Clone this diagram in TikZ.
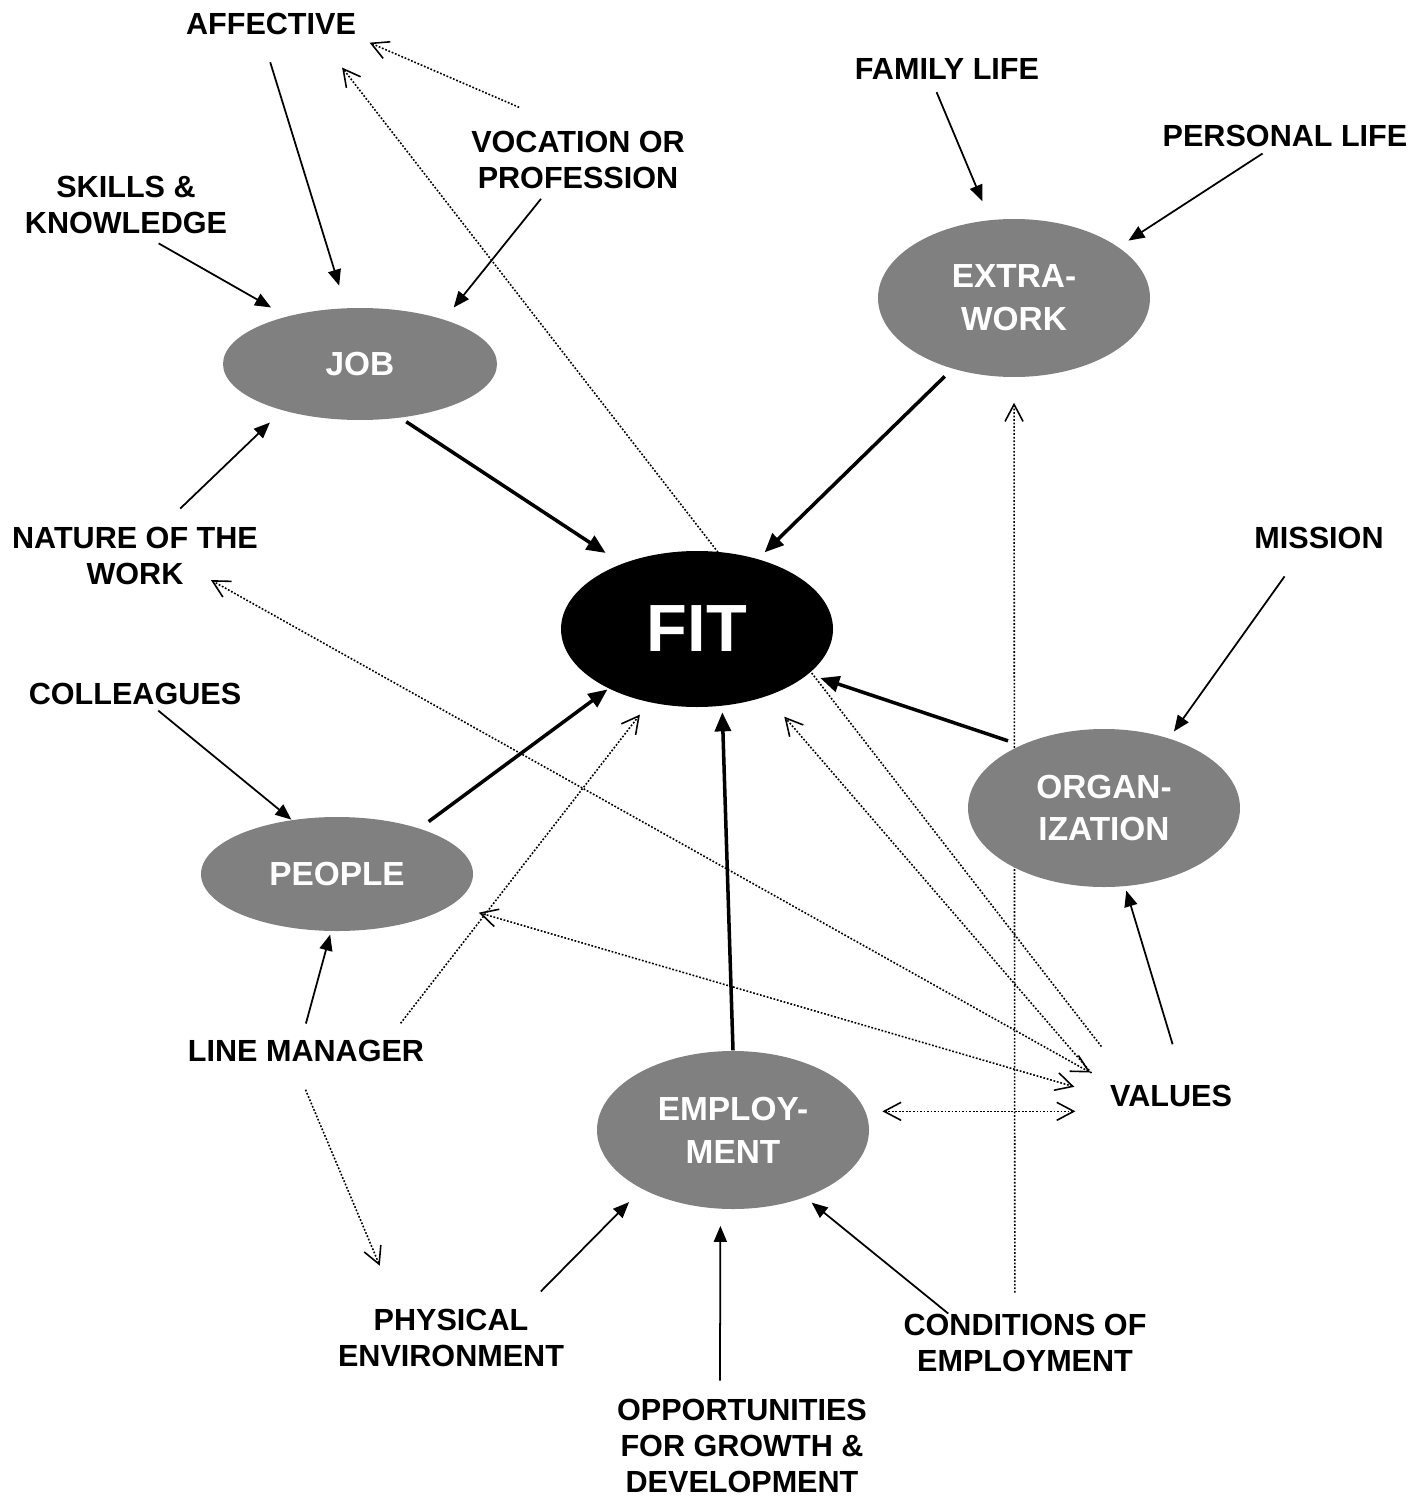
\documentclass[tikz,border=0pt]{standalone}
\usepackage{fontspec}
\setmainfont{Liberation Sans}
\usetikzlibrary{arrows.meta,shapes.geometric,backgrounds}
\tikzset{
  bubble/.style={ellipse, fill=gray, text=white, inner sep=0pt, align=center,
    minimum width=27.2mm, minimum height=15.8mm,
    font=\fontsize{9.5}{12.2}\selectfont\bfseries},
  lbl/.style={inner sep=0pt, align=center, font=\fontsize{8.7}{10.2}\selectfont\bfseries},
  feed/.style={-{Triangle[length=1.6mm,width=1.3mm]}, line width=0.5pt},
  main/.style={-{Triangle[length=1.9mm,width=1.6mm]}, line width=1pt},
  link/.style={line width=0.45pt, dash pattern=on 0.5pt off 0.5pt}
}
\begin{document}
\begin{tikzpicture}[x=0.1mm,y=-0.1mm,>={Straight Barb[length=1.7mm,width=1.8mm,line width=0.45pt]}]
  \begin{scope}[on background layer]
    \fill[white] (0,0) rectangle (1426,1497);
  \end{scope}
  \useasboundingbox (0,0) rectangle (1426,1497);

  \node[bubble, fill=black, minimum height=15.6mm, font=\fontsize{19}{22}\selectfont\bfseries] (fit) at (697,629) {FIT};
  \node[bubble, minimum width=27.4mm, minimum height=11.2mm] (job) at (360,364) {JOB};
  \node[bubble] (extra) at (1014,298) {EXTRA-\\WORK};
  \node[bubble] (org) at (1104,808) {ORGAN-\\IZATION};
  \node[bubble, minimum height=11.4mm] (people) at (337,874) {PEOPLE};
  \node[bubble] (employ) at (733,1130) {EMPLOY-\\MENT};

  \node[lbl] (affective) at (271,24) {AFFECTIVE};
  \node[lbl] (vocation) at (578,160) {VOCATION OR\\PROFESSION};
  \node[lbl] (skills) at (126,205) {SKILLS \&\\KNOWLEDGE};
  \node[lbl] (familylife) at (947,69) {FAMILY LIFE};
  \node[lbl] (personallife) at (1285,136) {PERSONAL LIFE};
  \node[lbl] (nature) at (135,556) {NATURE OF THE\\WORK};
  \node[lbl] (mission) at (1319,538) {MISSION};
  \node[lbl] (colleagues) at (135,694) {COLLEAGUES};
  \node[lbl] (linemanager) at (306,1051) {LINE MANAGER};
  \node[lbl] (values) at (1171,1096) {VALUES};
  \node[lbl] (physical) at (451,1338) {PHYSICAL\\ENVIRONMENT};
  \node[lbl] (opportunities) at (742,1446) {OPPORTUNITIES\\FOR GROWTH \&\\DEVELOPMENT};
  \node[lbl] (conditions) at (1025,1343) {CONDITIONS OF\\EMPLOYMENT};

  \begin{scope}[on background layer]
    \draw[feed, shorten <=2.8mm, shorten >=2.3mm] (affective.-128) -- (job.104);
    \draw[feed, shorten <=1.2mm, shorten >=1.5mm] (vocation.-135) -- (job.28);
    \draw[feed, shorten <=1.8mm, shorten >=1.75mm] (skills.-60) -- (job.147);
    \draw[feed, shorten <=2.6mm, shorten >=1.7mm] (nature.48) -- (job.-149);
    \draw[feed, shorten <=1.3mm, shorten >=2mm] (familylife.-144) -- (extra.107);
    \draw[feed, shorten <=1.1mm, shorten >=1.15mm] (personallife.-139) -- (extra.26);
    \draw[feed, shorten <=3.3mm, shorten >=0.8mm] (mission.-143) -- (org.47);
    \draw[feed, shorten <=0.8mm] (colleagues.-34) -- (people.130);
    \draw[feed, shorten <=1.65mm, shorten >=0.3mm] (linemanager.111) -- (people.-96);
    \draw[feed, shorten <=4.2mm, shorten >=0.4mm] (values.40) -- (org.-75);
    \draw[feed, shorten <=2.4mm, shorten >=1.8mm] (physical.22) -- (employ.-147);
    \draw[feed, shorten <=1.8mm, shorten >=1.65mm] (opportunities.115) -- (employ.-99);
    \draw[feed, shorten >=0.8mm] (conditions.159) -- (employ.-43);

    \draw[main, shorten <=0.65mm, shorten >=1.9mm] (job.-53) -- (fit.139);
    \draw[main, shorten <=1.05mm, shorten >=0.9mm] (extra.-131) -- (fit.49);
    \draw[main, shorten <=1.3mm, shorten >=1.2mm] (org.143) -- (fit.-22);
    \draw[main, shorten <=1.1mm, shorten >=0.1mm] (people.29) -- (fit.-146);
    \draw[main, shorten >=0.6mm] (employ.90) -- (fit.-72);

    \draw[link, ->, shorten <=5.85mm, shorten >=1.8mm] (vocation.100) -- (affective.-8);
    \draw[link, ->, shorten <=4.8mm, shorten >=4.05mm] (values.164) -- (affective.-14);
    \draw[link, <->, shorten <=2.45mm, shorten >=-1.1mm] (values.169) -- (nature.-19);
    \draw[link, ->, shorten <=2.75mm, shorten >=2.65mm] (values.178) -- (fit.-44);
    \draw[link, <->, shorten <=3.65mm, shorten >=2.75mm] (values.-179) -- (people.-15);
    \draw[link, <->, shorten <=1.65mm, shorten >=3.4mm] (employ.8) -- (employ.8 -| values.west);
    \draw[link, ->, shorten <=2.1mm, shorten >=2.5mm] (conditions.109) -- (extra.-90);
    \draw[link, ->, shorten <=2.05mm, shorten >=1.5mm] (linemanager.8) -- (fit.-123);
    \draw[link, ->, shorten <=2.95mm, shorten >=4.65mm] (linemanager.-136) -- (physical.151);
  \end{scope}
\end{tikzpicture}
\end{document}
